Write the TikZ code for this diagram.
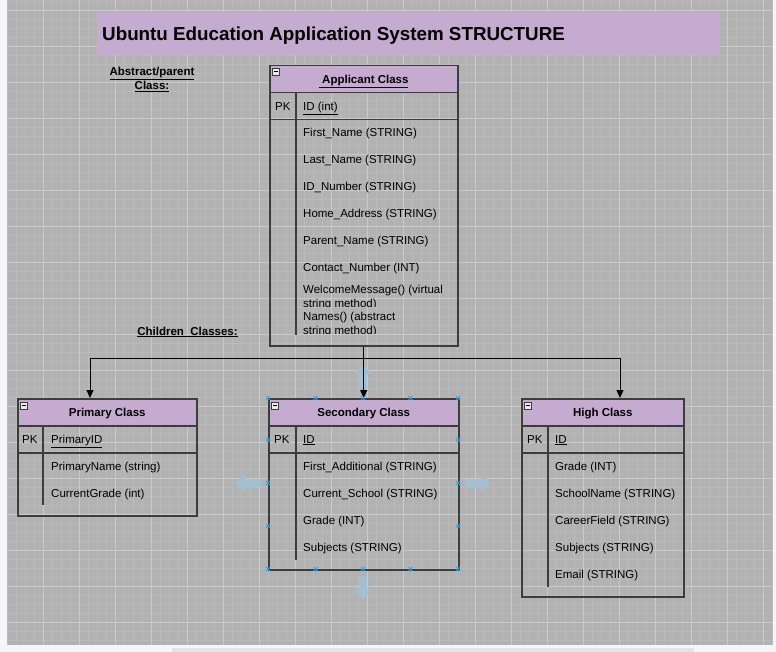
\documentclass[tikz,border=0pt]{standalone}
\usepackage{fontspec}
\setmainfont{Liberation Sans}
\usetikzlibrary{arrows.meta,positioning,calc}
\definecolor{lav}{RGB}{196,171,207}
\definecolor{canvas}{RGB}{178,178,178}
\definecolor{gridmaj}{RGB}{202,202,202}
\definecolor{gridmin}{RGB}{186,186,186}
\definecolor{edgec}{RGB}{60,60,60}
\definecolor{frame}{RGB}{244,246,249}
\definecolor{thumb}{RGB}{226,228,231}
\definecolor{selc}{RGB}{40,165,240}
\definecolor{hovc}{RGB}{163,192,210}
\newcommand{\fs}{\fontsize{11.5}{13.5}\selectfont}

\begin{document}
\begin{tikzpicture}[x=1pt,y=-1pt,
 hdr/.style={draw=edgec,line width=1.5pt,fill=lav,anchor=north west,inner sep=0pt,minimum height=27pt,font=\bfseries\fs,text height=10.5pt,text depth=1.2pt},
 cell/.style={draw=edgec,line width=1.5pt,anchor=north west,inner sep=0pt,minimum height=27pt},
 sep/.style={edgec,line width=1.5pt},
 fld/.style={anchor=west,inner sep=0pt,font=\fs,text height=10.5pt,text depth=1.2pt},
 lbl/.style={font=\bfseries\fs,align=center,inner sep=0pt},
 ico/.style={draw=edgec,fill=black!8,line width=0.5pt,minimum size=7pt,inner sep=0pt,anchor=north west},
 ar/.style={-{Triangle[width=7pt,length=8pt]},line width=0.9pt},
 hov/.style={hovc,line width=8pt,-{Triangle[width=17pt,length=10pt]}},
 hdl/.style={selc,line width=0.8pt}]
% canvas and grid
\useasboundingbox (0,0) rectangle (776,652);
\fill[frame] (0,0) rectangle (776,652);
\fill[canvas] (8,0) rectangle (772,645);
\foreach \x in {7,16,...,772} \draw[gridmin,line width=0.5pt] (\x,0) -- (\x,645);
\foreach \y in {1,10,...,645} \draw[gridmin,line width=0.5pt] (8,\y) -- (772,\y);
\foreach \x in {43,79,...,772} \draw[gridmaj,line width=0.8pt] (\x,0) -- (\x,645);
\foreach \y in {10,46,...,645} \draw[gridmaj,line width=0.8pt] (8,\y) -- (772,\y);
\fill[thumb] (172,648) rectangle (694,652);

% title
\node[fill=lav,minimum width=622pt,minimum height=43pt,anchor=north west,inner sep=0pt] (ttlbox) at (98,12) {};
\node[right=4pt of ttlbox.west,inner sep=0pt,font=\bfseries\fontsize{18.8}{22}\selectfont,text height=14pt,text depth=1pt] (ttl) {Ubuntu Education Application System STRUCTURE};

\node[lbl] (abslbl) at (152,79.5) {\underline{Abstract/parent}\\\underline{Class:}};
\node[lbl] (chlbl) at (187.5,332) {\underline{Children\ \ Classes:}};

% applicant class
\node[hdr,minimum width=188pt] (app) at (269,65) {\underline{\ Applicant Class}};
\node[cell,minimum width=188pt] (apppk) at (269,92) {};
\node[cell,minimum width=188pt,minimum height=226pt] (appbody) at (269,119) {};
\node[ico] at (272,68) {\rule{4pt}{1.2pt}};
\draw[sep] (296,92) -- (296,335);
\node[fld] at (275,105.5) {PK};
\node[fld] at (303,105.5) {\underline{ID (int)}};
\foreach \t [count=\i] in {First\_Name (STRING),Last\_Name (STRING),ID\_Number (STRING),Home\_Address (STRING),Parent\_Name (STRING),Contact\_Number (INT)}
  \node[fld] at (303,105+27*\i) {\t};
\begin{scope}
\clip (297,281) rectangle (456,306);
\node[fld] at (303,288.5) {WelcomeMessage() (virtual};
\node[fld] at (303,302.5) {string method)};
\end{scope}
\begin{scope}
\clip (297,306.5) rectangle (456,333);
\node[fld] at (303,315.5) {Names() (abstract};
\node[fld] at (303,329.5) {string method)};
\end{scope}

% primary class
\node[hdr,minimum width=179pt] (pri) at (17,398) {Primary Class};
\node[cell,minimum width=179pt] (pripk) at (17,425) {};
\node[cell,minimum width=179pt,minimum height=63pt] (pribody) at (17,452) {};
\node[ico] at (20,402) {\rule{4pt}{1.2pt}};
\draw[sep] (43,425) -- (43,505);
\node[fld] at (22,438.5) {PK};
\node[fld] at (51,438.5) {\underline{PrimaryID}};
\node[fld] at (51,465.5) {PrimaryName (string)};
\node[fld] at (51,492.5) {CurrentGrade (int)};

% secondary class
\node[hdr,minimum width=190pt] (sec) at (268,398) {Secondary Class};
\node[cell,minimum width=190pt] (secpk) at (268,425) {};
\node[cell,minimum width=190pt,minimum height=117pt] (secbody) at (268,452) {};
\node[ico] at (271,402) {\rule{4pt}{1.2pt}};
\draw[sep] (296,425) -- (296,560);
\node[fld] at (274,438.5) {PK};
\node[fld] at (303,438.5) {\underline{ID}};
\foreach \t [count=\i] in {First\_Additional (STRING),Current\_School (STRING),Grade (INT),Subjects (STRING)}
  \node[fld] at (303,438.5+27*\i) {\t};

% high class
\node[hdr,minimum width=162pt] (hig) at (521,398) {High Class};
\node[cell,minimum width=162pt] (higpk) at (521,425) {};
\node[cell,minimum width=162pt,minimum height=144pt] (higbody) at (521,452) {};
\node[ico] at (524,402) {\rule{4pt}{1.2pt}};
\draw[sep] (548,425) -- (548,587);
\node[fld] at (527,438.5) {PK};
\node[fld] at (555,438.5) {\underline{ID}};
\foreach \t [count=\i] in {Grade (INT),SchoolName (STRING),CareerField (STRING),Subjects (STRING),Email (STRING)}
  \node[fld] at (555,438.5+27*\i) {\t};

% hover arrows round the selected table
\draw[hov] (363,390) -- (363,364);
\draw[hov] (363,576) -- (363,600);
\draw[hov] (261,483) -- (235,483);
\draw[hov] (465,483) -- (491,483);

% inheritance connectors
\draw[line width=0.9pt] (appbody.south) -- ++(0,12) coordinate (fork);
\draw[ar] (fork) -| ([xshift=73pt]pri.north west);
\draw[ar] (fork) -- (sec.north);
\draw[ar] (fork) -| ([xshift=99pt]hig.north west);

% selection handles
\foreach \x in {268,315.5,363,410.5,458} \foreach \y in {398,569}
  \draw[hdl] (\x-2,\y-2) -- (\x+2,\y+2) (\x-2,\y+2) -- (\x+2,\y-2);
\foreach \x in {268,458} \foreach \y in {440,483,526}
  \draw[hdl] (\x-2,\y-2) -- (\x+2,\y+2) (\x-2,\y+2) -- (\x+2,\y-2);
\end{tikzpicture}
\end{document}
